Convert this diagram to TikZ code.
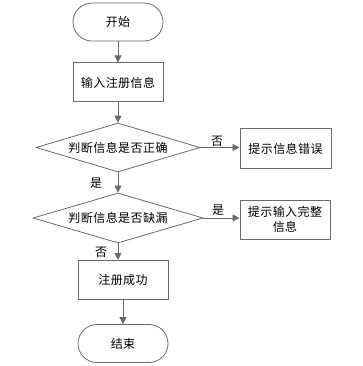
\documentclass[tikz,border=0pt]{standalone}
\usepackage{fontspec}
\newfontfamily\cjk[LetterSpace=4]{Noto Sans CJK SC}
\usetikzlibrary{shapes.geometric,arrows.meta}
\definecolor{linec}{HTML}{6A6A6A}
\begin{document}
\begin{tikzpicture}[x=1pt,y=-1pt,
  every node/.style={font=\cjk\fontsize{12}{15}\selectfont, text=black},
  term/.style={draw=linec, line width=0.8pt, rounded corners=19pt, minimum width=90pt, minimum height=38pt, inner sep=0pt},
  proc/.style={draw=linec, line width=1pt, minimum width=90pt, minimum height=39pt, inner sep=0pt, align=center},
  dec/.style={draw=linec, line width=0.8pt, diamond, aspect=3.3, inner sep=0pt},
  lab/.style={inner sep=0pt},
  arr/.style={draw=linec, line width=0.9pt, -{Triangle[length=7pt,width=7pt]}}]
\useasboundingbox (0,0) rectangle (362,366);
\node[term] (start) at (118,22) {开始};
\node[proc] (input) at (118,82.5) {输入注册信息};
\node[dec, minimum width=164pt, minimum height=49pt] (d1) at (118,147.5) {判断信息是否正确};
\node[proc, minimum width=91pt] (err) at (285.5,148.5) {提示信息错误};
\node[dec, minimum width=170pt, minimum height=50pt] (d2) at (118,218) {判断信息是否缺漏};
\node[proc] (miss) at (285,219.5) {提示输入完整\\信息};
\node[proc] (ok) at (123,280) {注册成功};
\node[term] (end) at (123,343.5) {结束};
\draw[arr] (start) -- (input);
\draw[arr] (input) -- (d1);
\draw[arr] (d1.east) -- (err.west |- d1.east);
\draw[arr] (d1) -- (d2);
\draw[arr] (d2.east) -- (miss.west |- d2.east);
\draw[arr] (d2.south) -- (d2.south |- ok.north);
\draw[arr] (ok.south -| end.north) -- (end);
\node[lab] (l1) at (217,141) {否};
\node[lab] (l2) at (96,183) {是};
\node[lab] (l3) at (218,210) {是};
\node[lab] (l4) at (101,252) {否};
\end{tikzpicture}
\end{document}
